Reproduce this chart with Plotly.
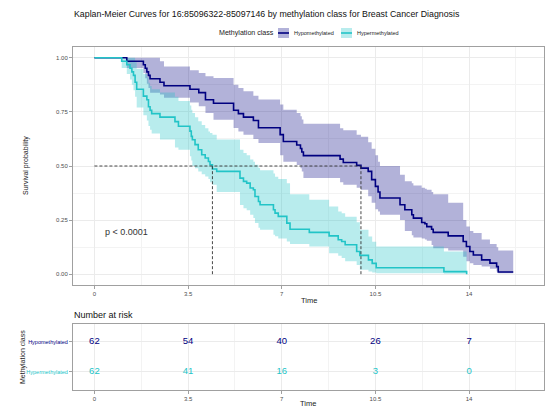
import plotly.graph_objects as go

# ---------------------------------------------------------------------------
# Kaplan-Meier estimates (step points) with 95% confidence limits
# ---------------------------------------------------------------------------
groups = ["Hypomethylated", "Hypermethylated"]

hypo_time = [0, 1.21, 1.83, 1.90, 1.96, 2.02, 2.08, 2.45, 2.60, 3.57, 3.90, 4.15, 4.45,
             5.20, 5.38, 5.57, 5.94, 6.13, 6.94, 7.06, 7.56, 7.70, 7.75, 7.81, 9.18, 9.30,
             9.80, 9.96, 10.23, 10.36, 10.50, 10.60, 10.67, 11.42, 11.60, 11.86, 11.92,
             12.23, 12.35, 12.42, 12.60, 12.66, 13.22, 13.78, 13.90, 14.03, 14.16, 14.47,
             14.78, 15.03, 15.09, 15.65]
hypo_surv = [1.000, 0.984, 0.968, 0.952, 0.935, 0.919, 0.903, 0.887, 0.871, 0.855, 0.839,
             0.806, 0.790, 0.758, 0.742, 0.726, 0.710, 0.677, 0.645, 0.613, 0.597, 0.581,
             0.565, 0.548, 0.532, 0.516, 0.503, 0.490, 0.475, 0.437, 0.406, 0.380, 0.352,
             0.321, 0.298, 0.275, 0.259, 0.239, 0.233, 0.220, 0.208, 0.193, 0.177, 0.151,
             0.128, 0.105, 0.089, 0.066, 0.051, 0.035, 0.010, 0.010]
hypo_upper = [1.000, 1.000, 1.000, 1.000, 1.000, 1.000, 1.000, 0.984, 0.960, 0.943, 0.930,
              0.915, 0.907, 0.876, 0.860, 0.845, 0.825, 0.807, 0.784, 0.760, 0.745, 0.730,
              0.715, 0.695, 0.675, 0.665, 0.645, 0.635, 0.610, 0.580, 0.550, 0.520, 0.500,
              0.460, 0.430, 0.420, 0.410, 0.400, 0.395, 0.390, 0.380, 0.370, 0.330, 0.250,
              0.220, 0.200, 0.190, 0.160, 0.140, 0.125, 0.110, 0.110]
hypo_lower = [1.000, 0.953, 0.930, 0.905, 0.880, 0.860, 0.838, 0.830, 0.815, 0.794, 0.776,
              0.745, 0.714, 0.676, 0.660, 0.645, 0.625, 0.606, 0.550, 0.520, 0.505, 0.490,
              0.475, 0.445, 0.425, 0.413, 0.400, 0.390, 0.360, 0.330, 0.300, 0.290, 0.275,
              0.250, 0.200, 0.180, 0.170, 0.165, 0.160, 0.155, 0.135, 0.120, 0.110, 0.080,
              0.060, 0.050, 0.043, 0.035, 0.025, 0.012, 0.004, 0.004]

hyper_time = [0, 1.02, 1.21, 1.33, 1.40, 1.46, 1.52, 1.58, 1.83, 1.96, 2.02, 2.08, 2.14,
              2.45, 3.01, 3.14, 3.57, 3.62, 3.66, 3.76, 3.88, 4.01, 4.14, 4.26, 4.32, 4.41,
              4.57, 5.44, 5.57, 5.69, 5.82, 5.94, 6.00, 6.13, 6.19, 6.69, 6.75, 6.87, 7.19,
              7.31, 8.03, 8.77, 9.11, 9.24, 9.37, 9.80, 9.92, 10.24, 10.38, 10.53, 13.06,
              13.91]
hyper_surv = [1.000, 0.984, 0.968, 0.952, 0.935, 0.919, 0.887, 0.855, 0.823, 0.806, 0.774,
              0.758, 0.742, 0.726, 0.705, 0.684, 0.661, 0.637, 0.621, 0.599, 0.575, 0.552,
              0.537, 0.521, 0.506, 0.486, 0.475, 0.444, 0.429, 0.421, 0.398, 0.390, 0.359,
              0.336, 0.321, 0.298, 0.282, 0.267, 0.236, 0.208, 0.193, 0.177, 0.159, 0.151,
              0.136, 0.105, 0.087, 0.066, 0.050, 0.030, 0.012, 0.000]
hyper_upper = [1.000, 1.000, 1.000, 1.000, 1.000, 1.000, 0.980, 0.950, 0.925, 0.910, 0.885,
               0.870, 0.855, 0.840, 0.820, 0.800, 0.780, 0.760, 0.745, 0.725, 0.707, 0.690,
               0.675, 0.660, 0.652, 0.645, 0.622, 0.575, 0.560, 0.550, 0.530, 0.520, 0.506,
               0.491, 0.480, 0.465, 0.450, 0.440, 0.420, 0.370, 0.344, 0.313, 0.290, 0.282,
               0.265, 0.240, 0.205, 0.174, 0.150, 0.128, 0.105, 0.105]
hyper_lower = [1.000, 0.953, 0.925, 0.900, 0.875, 0.850, 0.820, 0.770, 0.735, 0.710, 0.685,
               0.668, 0.650, 0.622, 0.585, 0.575, 0.545, 0.525, 0.500, 0.490, 0.475, 0.462,
               0.452, 0.440, 0.425, 0.413, 0.380, 0.320, 0.305, 0.295, 0.275, 0.260, 0.236,
               0.215, 0.205, 0.182, 0.175, 0.165, 0.151, 0.140, 0.128, 0.097, 0.085, 0.075,
               0.060, 0.043, 0.020, 0.012, 0.008, 0.004, 0.002, 0.002]

# median survival times (hypo, hyper)
median_times = [9.96, 4.41]

# number at risk table
risk_times = [0, 3.5, 7, 10.5, 14]
risk_hypo = [62, 54, 40, 26, 7]
risk_hyper = [62, 41, 16, 3, 0]

x_ticks = [0, 3.5, 7, 10.5, 14]
x_tick_labels = ["0", "3.5", "7", "10.5", "14"]
y_ticks = [0, 0.25, 0.5, 0.75, 1.0]
p_label = "p < 0.0001"

# ---------------------------------------------------------------------------
W, H = 548, 408
FONT = "Liberation Sans, Arial, sans-serif"
HYPO_LINE = "#000080"
HYPO_BAND = "rgba(0,0,128,0.30)"
HYPER_LINE = "#22C4C7"
HYPER_BAND = "rgba(34,196,199,0.32)"
GRID = "#EBEBEB"
MINOR = "#F3F3F3"
BORDER = "#A0A0A0"
TICKTXT = "#4D4D4D"


def px(x):
    return x / W


def py(y):
    return 1 - y / H


fig = go.Figure()

series = [
    (groups[0], hypo_time, hypo_surv, hypo_upper, hypo_lower, HYPO_LINE, HYPO_BAND),
    (groups[1], hyper_time, hyper_surv, hyper_upper, hyper_lower, HYPER_LINE, HYPER_BAND),
]

# confidence bands
for name, t, s, up, lo, lc, bc in series:
    fig.add_trace(go.Scatter(x=t, y=up, mode="lines", line=dict(width=0, shape="hv"),
                             showlegend=False, hoverinfo="skip", xaxis="x", yaxis="y"))
    fig.add_trace(go.Scatter(x=t, y=lo, mode="lines", line=dict(width=0, shape="hv"),
                             fill="tonexty", fillcolor=bc, showlegend=False,
                             hoverinfo="skip", xaxis="x", yaxis="y"))

# survival curves
for name, t, s, up, lo, lc, bc in series:
    fig.add_trace(go.Scatter(x=t, y=s, mode="lines", name=name,
                             line=dict(color=lc, width=1.6, shape="hv"),
                             showlegend=False, xaxis="x", yaxis="y"))

# median survival guide lines
med_x = [0, max(median_times), None]
med_y = [0.5, 0.5, None]
for m in median_times:
    med_x += [m, m, None]
    med_y += [0, 0.5, None]
fig.add_trace(go.Scatter(x=med_x, y=med_y, mode="lines",
                         line=dict(color="#333333", width=0.9, dash="3px,2px"),
                         showlegend=False, hoverinfo="skip", xaxis="x", yaxis="y"))

# number-at-risk table
fig.add_trace(go.Scatter(x=risk_times, y=[2] * len(risk_times), mode="text",
                         text=[str(v) for v in risk_hypo],
                         textfont=dict(family=FONT, size=9.5, color=HYPO_LINE),
                         showlegend=False, hoverinfo="skip", xaxis="x2", yaxis="y2"))
fig.add_trace(go.Scatter(x=risk_times, y=[1] * len(risk_times), mode="text",
                         text=[str(v) for v in risk_hyper],
                         textfont=dict(family=FONT, size=9.5, color=HYPER_LINE),
                         showlegend=False, hoverinfo="skip", xaxis="x2", yaxis="y2"))

x_dom = [px(73), px(544)]
common_x = dict(range=[-0.8, 16.8], tickmode="array", tickvals=x_ticks, ticktext=x_tick_labels,
                showgrid=True, gridcolor=GRID, gridwidth=1,
                minor=dict(tick0=0, dtick=1.75, showgrid=True, gridcolor=MINOR, gridwidth=1),
                showline=True, mirror=True, linecolor=BORDER, linewidth=1,
                ticks="outside", ticklen=3, tickcolor=BORDER,
                tickfont=dict(family=FONT, size=6, color=TICKTXT), zeroline=False,
                fixedrange=True)

fig.update_layout(
    width=W, height=H, autosize=False,
    margin=dict(l=0, r=0, t=0, b=0),
    paper_bgcolor="white", plot_bgcolor="white",
    showlegend=False, hovermode=False,
    font=dict(family=FONT),
    xaxis=dict(domain=x_dom, anchor="y", **common_x),
    yaxis=dict(domain=[py(285), py(47)], anchor="x", range=[-0.05, 1.05],
               tickmode="array", tickvals=y_ticks, ticktext=[f"{v:.2f}" for v in y_ticks],
               showgrid=True, gridcolor=GRID, gridwidth=1,
               minor=dict(tick0=0, dtick=0.125, showgrid=True, gridcolor=MINOR, gridwidth=1),
               showline=True, mirror=True, linecolor=BORDER, linewidth=1,
               ticks="outside", ticklen=3, tickcolor=BORDER,
               tickfont=dict(family=FONT, size=6, color=TICKTXT), zeroline=False,
               fixedrange=True),
    xaxis2=dict(domain=x_dom, anchor="y2", **common_x),
    yaxis2=dict(domain=[py(390), py(323.7)], anchor="x2", range=[0.4, 2.6],
                tickmode="array", tickvals=[2, 1],
                ticktext=[f"<span style='color:{HYPO_LINE}'>{groups[0]}</span>",
                          f"<span style='color:{HYPER_LINE}'>{groups[1]}</span>"],
                showgrid=True, gridcolor=GRID, gridwidth=1,
                showline=True, mirror=True, linecolor=BORDER, linewidth=1,
                ticks="outside", ticklen=3, tickcolor=BORDER,
                tickfont=dict(family=FONT, size=5.5), zeroline=False, fixedrange=True),
)

# legend keys (box + line, ggplot style)
legend_keys = [(278, HYPO_BAND, HYPO_LINE), (341, HYPER_BAND, HYPER_LINE)]
for x0, bc, lc in legend_keys:
    fig.add_shape(type="rect", xref="paper", yref="paper",
                  x0=px(x0), x1=px(x0 + 11), y0=py(38), y1=py(28),
                  fillcolor=bc, line=dict(width=0))
    fig.add_shape(type="line", xref="paper", yref="paper",
                  x0=px(x0), x1=px(x0 + 11), y0=py(33), y1=py(33),
                  line=dict(color=lc, width=1.6))

ann = [
    dict(text="Kaplan-Meier Curves for 16:85096322-85097146 by methylation class for Breast Cancer Diagnosis",
         x=px(72), y=py(14), xanchor="left", font=dict(size=8.8, color="#111111")),
    dict(text="Methylation class", x=px(217), y=py(33), xanchor="left",
         font=dict(size=7.1, color="#222222")),
    dict(text=groups[0], x=px(292.5), y=py(33), xanchor="left",
         font=dict(size=5.5, color="#222222")),
    dict(text=groups[1], x=px(354.5), y=py(33), xanchor="left",
         font=dict(size=5.5, color="#222222")),
    dict(text="Survival probability", x=px(20), y=py(166), textangle=-90,
         font=dict(size=7, color="#222222")),
    dict(text="Time", x=px(308.5), y=py(300), font=dict(size=7.5, color="#222222")),
    dict(text="Number at risk", x=px(72), y=py(315), xanchor="left",
         font=dict(size=9, color="#111111")),
    dict(text="Methylation class", x=px(17), y=py(357), textangle=-90,
         font=dict(size=7, color="#222222")),
    dict(text="Time", x=px(308), y=py(403), font=dict(size=7.5, color="#222222")),
]
for a in ann:
    fig.add_annotation(xref="paper", yref="paper", showarrow=False, yanchor="middle",
                       **{k: v for k, v in a.items()})

fig.add_annotation(x=0.31, y=0.197, xref="x", yref="y", text=p_label, showarrow=False,
                   xanchor="left", yanchor="middle",
                   font=dict(size=9, color="#333333", family=FONT))

fig.write_html("out.html", config={"displayModeBar": False})
